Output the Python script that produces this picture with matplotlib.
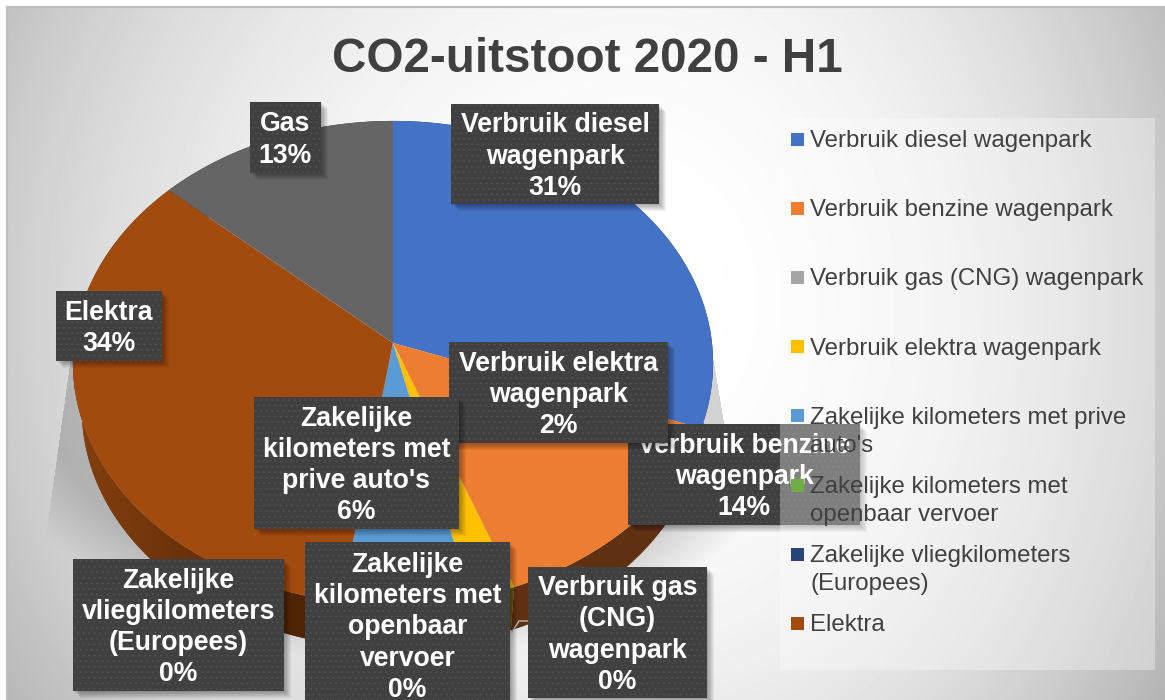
import numpy as np
import matplotlib
matplotlib.use('Agg')
import matplotlib.pyplot as plt
from matplotlib.patches import Rectangle, Polygon
from matplotlib.transforms import Transform

title = 'CO2-uitstoot 2020 - H1'

categories = ['Verbruik diesel wagenpark', 'Verbruik benzine wagenpark',
              'Verbruik gas (CNG) wagenpark', 'Verbruik elektra wagenpark',
              'Zakelijke kilometers met prive auto\'s',
              'Zakelijke kilometers met openbaar vervoer',
              'Zakelijke vliegkilometers (Europees)', 'Elektra', 'Gas']
values = [30.6, 13.7, 0.0, 2.1, 6.0, 0.0, 0.0, 34.3, 13.3]
colors = ['#4472C4', '#ED7D31', '#A5A5A5', '#FFC000', '#5B9BD5',
          '#70AD47', '#264478', '#A24B0F', '#656565']
wall_colors = ['#1F3864', '#5F3012', '#555555', '#6B5800', '#2E5A85',
               '#3A5A25', '#132240', '#6A3208', '#333333']

# legend has one entry less than the pie in the original
legend_lines = [['Verbruik diesel wagenpark'], ['Verbruik benzine wagenpark'],
                ['Verbruik gas (CNG) wagenpark'], ['Verbruik elektra wagenpark'],
                ['Zakelijke kilometers met prive', 'auto\'s'],
                ['Zakelijke kilometers met', 'openbaar vervoer'],
                ['Zakelijke vliegkilometers', '(Europees)'], ['Elektra']]

label_names = ['Verbruik diesel\nwagenpark', 'Verbruik benzine\nwagenpark',
               'Verbruik gas\n(CNG)\nwagenpark', 'Verbruik elektra\nwagenpark',
               'Zakelijke\nkilometers met\nprive auto\'s',
               'Zakelijke\nkilometers met\nopenbaar\nvervoer',
               'Zakelijke\nvliegkilometers\n(Europees)', 'Elektra', 'Gas']
# x0, y0, x1, y1 in pixels
label_boxes = [(451, 104, 659, 204), (628, 424, 860, 525), (528, 567, 707, 698),
               (449, 342, 668, 443), (254, 397, 459, 529), (305, 542, 510, 708),
               (73, 559, 284, 691), (56, 291, 162, 361), (250, 102, 321, 173)]

W, H = 1165, 700
CX, CY = 393, 343
TILT = 0.0826


class TiltedDisk(Transform):
    """Unit disk to pixels, with some perspective"""
    input_dims = 2
    output_dims = 2

    def __init__(self, a=319.0, b=240.4, dy=0.0):
        super().__init__()
        self.a = a
        self.b = b
        self.dy = dy

    def transform_non_affine(self, xy):
        xy = np.asarray(xy, dtype=float)
        w = 1 + TILT * xy[:, 1]
        return np.column_stack([CX + self.a * xy[:, 0] / w,
                                CY + self.dy - self.b * xy[:, 1] / w])


def make_background():
    x = np.arange(W)
    y = np.arange(H)
    xx, yy = np.meshgrid(x, y)
    dx = (xx - 640.0) * np.where(xx > 640, 1.25, 1.0)
    dy = yy - 300.0
    t = np.sqrt(dx ** 2 + dy ** 2) / 750.0
    bg = 255 - 72 * t ** 2.2

    # shadow of the pie, only seen as a fan below it
    left = 70 - (yy - 360) * 18 / 130.0
    right = 713 + (yy - 360) * 22 / 130.0
    rho = np.sqrt(((xx - 393) / 345.0) ** 2 + ((yy - 350) / 250.0) ** 2)
    shade = np.clip(1 - (rho - 1.05) / 0.2, 0, 1)
    shade[(xx < left) | (xx > right) | (yy < 360) | (yy > 665)] = 0
    bg = bg * (1 - 0.17 * shade)
    return np.clip(bg, 0, 255) / 255.0


def box_shadow(ax, box, z):
    x0, y0, x1, y1 = box
    for off in range(1, 8):
        ax.add_patch(Rectangle((x0 + off, y0 + off), x1 - x0, y1 - y0,
                               facecolor='black', alpha=0.05, linewidth=0, zorder=z))


def main():
    plt.rcParams['font.family'] = ['Liberation Sans', 'DejaVu Sans']
    plt.rcParams['hatch.linewidth'] = 0.4
    fig = plt.figure(figsize=(W / 100, H / 100), dpi=100)
    ax = fig.add_axes([0, 0, 1, 1])

    ax.imshow(make_background(), cmap='gray', vmin=0, vmax=1, extent=(0, W, H, 0),
              aspect='auto', zorder=0)
    ax.add_patch(Rectangle((0, 0), W, 6, facecolor='white', linewidth=0, zorder=0.5))
    ax.add_patch(Rectangle((0, 0), 6, H, facecolor='white', linewidth=0, zorder=0.5))
    ax.plot([6.5, 6.5, W], [H, 6.5, 6.5], color='#BDBDBD', linewidth=1.5, zorder=0.6)

    # side wall of the pie
    top = TiltedDisk()
    bottom = TiltedDisk(a=319 * 0.972, b=240.4 * 0.985, dy=47)
    fracs = np.cumsum([0] + values) / sum(values)
    for i in range(len(values)):
        if values[i] == 0:
            continue
        ang = np.linspace(fracs[i], fracs[i + 1], 200) * 2 * np.pi
        uv = np.column_stack([np.sin(ang), np.cos(ang)])
        pts = np.vstack([top.transform_non_affine(uv),
                         bottom.transform_non_affine(uv)[::-1]])
        wall = Polygon(pts, closed=True, facecolor=wall_colors[i], linewidth=0, zorder=1)
        ax.add_patch(wall)
        if categories[i] == 'Elektra':
            grad = np.linspace(0, 1, 300).reshape(1, -1, 1)
            rgb = np.array([0x86, 0x40, 0x0E]) * (1 - grad) + np.array([0x4A, 0x22, 0x06]) * grad
            im = ax.imshow(rgb / 255.0, extent=(70, 320, 700, 300), aspect='auto', zorder=1.1)
            im.set_clip_path(wall)

    # top of the pie
    wedges, _ = ax.pie(values, colors=colors, startangle=90, counterclock=False, radius=1)
    for w in wedges:
        w.set_transform(top + ax.transData)
        w.set_zorder(2)

    ax.set_aspect('auto')
    ax.set_xlim(0, W)
    ax.set_ylim(H, 0)
    ax.axis('off')

    # leftover leader line
    ax.plot([512, 519, 528], [632, 621, 621], color='#B8B8B8', linewidth=1, zorder=2.5)

    # data labels
    for i, name in enumerate(label_names):
        x0, y0, x1, y1 = label_boxes[i]
        z = 3 + i
        box_shadow(ax, label_boxes[i], z)
        ax.add_patch(Rectangle((x0, y0), x1 - x0, y1 - y0, facecolor='#404040',
                               edgecolor='#545454', hatch='...', linewidth=0, zorder=z))
        text = name + '\n%d%%' % round(values[i])
        yc = (y0 + y1) / 2 if i != 5 else 625
        ax.text((x0 + x1) / 2, yc + 2.5, text, color='white', fontsize=19.2, fontweight='bold',
                ha='center', va='center', linespacing=1.26, zorder=z)

    # legend, lies over the labels
    ax.add_patch(Rectangle((780, 118), 375, 552, facecolor='white', alpha=0.33,
                           linewidth=0, zorder=20))
    for i, lines in enumerate(legend_lines):
        y = 139 + i * 69.2
        ax.add_patch(Rectangle((791, y - 6.5), 13, 13, facecolor=colors[i], linewidth=0, zorder=21))
        for j, line in enumerate(lines):
            ax.text(810, y + 2 + j * 28, line, color='#404040', fontsize=17.3,
                    ha='left', va='center', zorder=21)

    ax.text(587, 60, title, color='#404040', fontsize=34.3, fontweight='bold',
            ha='center', va='center', zorder=25)

    fig.savefig('out.png', dpi=100)


if __name__ == '__main__':
    main()
